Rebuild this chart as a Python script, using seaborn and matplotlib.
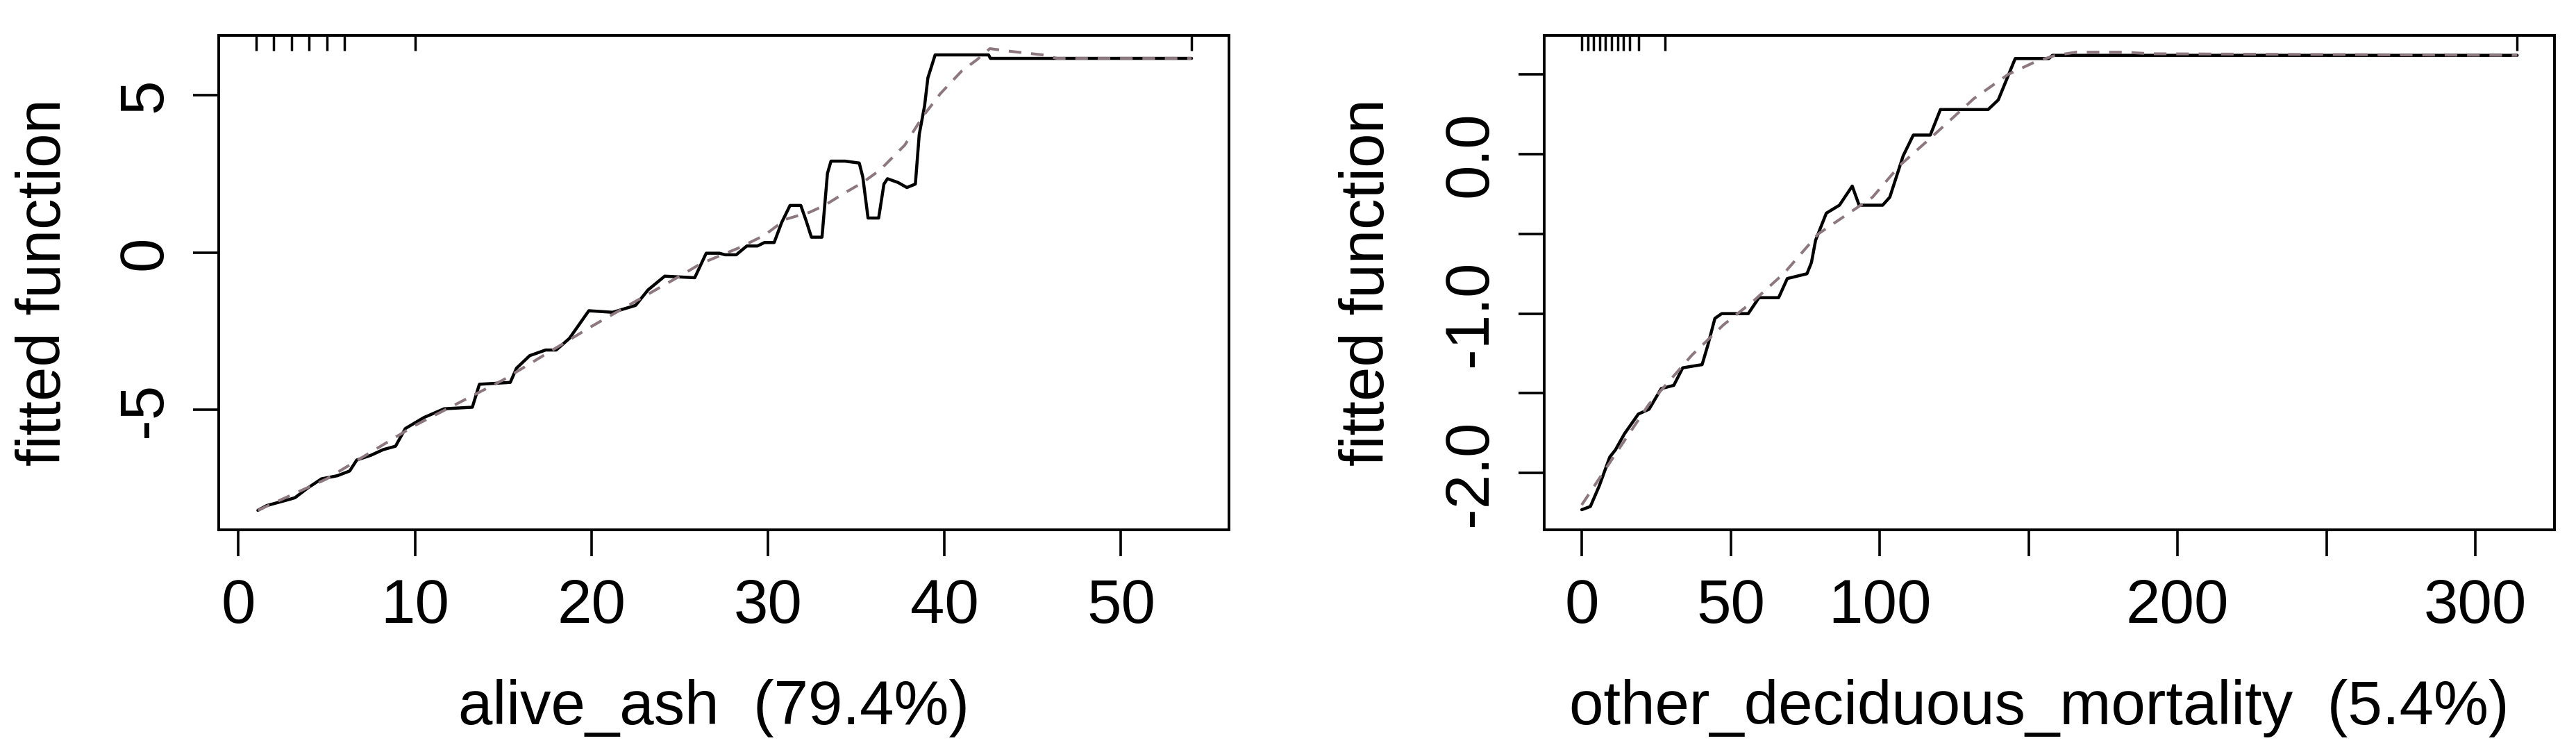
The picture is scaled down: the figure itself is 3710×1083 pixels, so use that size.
import matplotlib
matplotlib.use("Agg")
import matplotlib.pyplot as plt
import seaborn as sns

# --- panel 1: alive_ash ---
ash_x = [1.1, 1.6, 2.9, 3.2, 3.9, 4.7, 5.6, 6.3, 6.7, 7.5, 8.2, 8.9, 9.45, 10.5, 11.65,
         13.25, 13.65, 15.4, 15.75, 16.5, 17.4, 18.0, 18.75, 19.85, 21.2, 22.5, 23.2,
         24.15, 25.85, 26.5, 27.25, 27.57, 28.2, 28.8, 29.4, 29.8, 30.35, 30.77, 31.25,
         31.86, 32.17, 32.46, 33.06, 33.37, 33.57, 34.36, 35.17, 35.37, 35.67, 36.27,
         36.57, 36.77, 37.37, 37.87, 38.35, 38.57, 38.87, 39.06, 39.47, 42.5, 42.6, 54.0]
ash_fit = [-8.2, -8.05, -7.85, -7.8, -7.5, -7.2, -7.1, -6.95, -6.6, -6.45, -6.27, -6.16,
           -5.6, -5.25, -4.97, -4.92, -4.19, -4.13, -3.68, -3.28, -3.1, -3.1, -2.73,
           -1.85, -1.9, -1.68, -1.19, -0.75, -0.8, -0.02, -0.02, -0.07, -0.07, 0.21, 0.21,
           0.32, 0.32, 0.95, 1.5, 1.5, 1.0, 0.49, 0.49, 2.52, 2.91, 2.91, 2.85, 2.41, 1.1,
           1.1, 2.18, 2.35, 2.23, 2.07, 2.18, 3.76, 4.66, 5.56, 6.29, 6.29, 6.18, 6.18]
ash_smooth_x = [1.1, 5.0, 10.0, 15.0, 20.0, 25.0, 26.2, 28.35, 29.8, 31.0, 32.35, 33.2,
                34.35, 35.37, 36.35, 37.75, 38.76, 39.77, 40.98, 41.8, 42.57, 43.8,
                45.57, 46.37, 54.0]
ash_smooth = [-8.2, -7.2, -5.5, -4.05, -2.35, -0.75, -0.35, 0.15, 0.55, 1.06, 1.28, 1.5,
              1.9, 2.23, 2.63, 3.42, 4.32, 5.06, 5.78, 6.12, 6.49, 6.4, 6.29, 6.18, 6.18]
ash_rug = [1, 2, 3, 4, 5, 6, 10, 54]

# --- panel 2: other_deciduous_mortality ---
odm_x = [0, 2.9, 5.9, 9.4, 11.3, 14.3, 19, 22.6, 26.7, 30.9, 33.9, 40.4, 42.3, 44.7, 47,
         55.9, 59.5, 66.1, 69, 75.6, 77.1, 78.5, 82.1, 86.5, 90.8, 93.1, 101, 103.4,
         107.9, 111.3, 117, 120.4, 136.4, 139.8, 145.5, 156.8, 158, 314]
odm_fit = [-2.23, -2.21, -2.08, -1.9, -1.855, -1.755, -1.63, -1.6, -1.47, -1.45, -1.34,
           -1.32, -1.2, -1.03, -1.0, -1.0, -0.9, -0.9, -0.78, -0.75, -0.68, -0.54, -0.37,
           -0.32, -0.2, -0.32, -0.32, -0.27, -0.01, 0.12, 0.12, 0.28, 0.28, 0.34, 0.6,
           0.6, 0.62, 0.62]
odm_smooth_x = [0, 11, 22.5, 37, 47.6, 57.7, 68, 79.4, 97.6, 106.8, 118.2, 131.7, 143.1,
                152.3, 159, 166, 182, 191, 314]
odm_smooth = [-2.2, -1.89, -1.57, -1.26, -1.07, -0.92, -0.745, -0.5, -0.27, -0.07, 0.12,
              0.35, 0.5, 0.58, 0.62, 0.64, 0.64, 0.63, 0.62]
odm_rug = [0, 2, 4, 6, 8, 10, 12, 14, 16, 19, 28, 314]

sns.set_theme(style="ticks")
plt.rcParams["font.family"] = ["Liberation Sans", "DejaVu Sans"]
plt.rcParams["text.color"] = "black"
plt.rcParams["axes.labelcolor"] = "black"
FS = 64

fig = plt.figure(figsize=(37.1, 10.83), dpi=100)
ax1 = fig.add_axes([0.0849, 0.2955, 0.3922, 0.6574])
ax2 = fig.add_axes([0.5995, 0.2955, 0.3922, 0.6574])

panels = [
    (ax1, ash_x, ash_fit, ash_smooth_x, ash_smooth, ash_rug, "alive_ash  (79.4%)",
     (-1.12, 56.12), (-8.82, 6.91),
     [0, 10, 20, 30, 40, 50], ["0", "10", "20", "30", "40", "50"],
     [-5, 0, 5], ["-5", "0", "5"], -0.1436),
    (ax2, odm_x, odm_fit, odm_smooth_x, odm_smooth, odm_rug,
     "other_deciduous_mortality  (5.4%)",
     (-12.56, 326.56), (-2.356, 0.745),
     [0, 50, 100, 150, 200, 250, 300], ["0", "50", "100", "", "200", "", "300"],
     [-2.0, -1.5, -1.0, -0.5, 0.0, 0.5], ["-2.0", "", "-1.0", "", "0.0", ""], -0.1457),
]

for ax, x, y, sx, sy, rug, xlabel, xlim, ylim, xt, xtl, yt, ytl, ylab_x in panels:
    sns.lineplot(x=x, y=y, ax=ax, color="black", linewidth=3.2,
                 estimator=None, sort=False)
    sns.lineplot(x=sx, y=sy, ax=ax, color="#8d7880", linewidth=2.9,
                 linestyle=(0, (4.5, 3.5)), estimator=None, sort=False)
    ax.vlines(rug, 0.969, 1.0, transform=ax.get_xaxis_transform(),
              color="black", linewidth=2.5)
    ax.set_xlim(*xlim)
    ax.set_ylim(*ylim)
    ax.set_xticks(xt)
    ax.set_xticklabels(xtl, fontsize=FS)
    ax.set_yticks(yt)
    ax.set_yticklabels(ytl, rotation=90, va="center", fontsize=FS)
    ax.tick_params(axis="both", direction="out", length=27, width=2.6,
                   color="black", labelcolor="black")
    ax.tick_params(axis="x", pad=23)
    ax.tick_params(axis="y", pad=19)
    for s in ax.spines.values():
        s.set_visible(True)
        s.set_linewidth(2.8)
        s.set_color("black")
    ax.set_xlabel(xlabel, fontsize=FS, color="black")
    ax.set_ylabel("fitted function", fontsize=FS, color="black")
    ax.xaxis.set_label_coords(0.49, -0.302)
    ax.yaxis.set_label_coords(ylab_x, 0.5)

fig.savefig("out.png", dpi=100, facecolor="white")
